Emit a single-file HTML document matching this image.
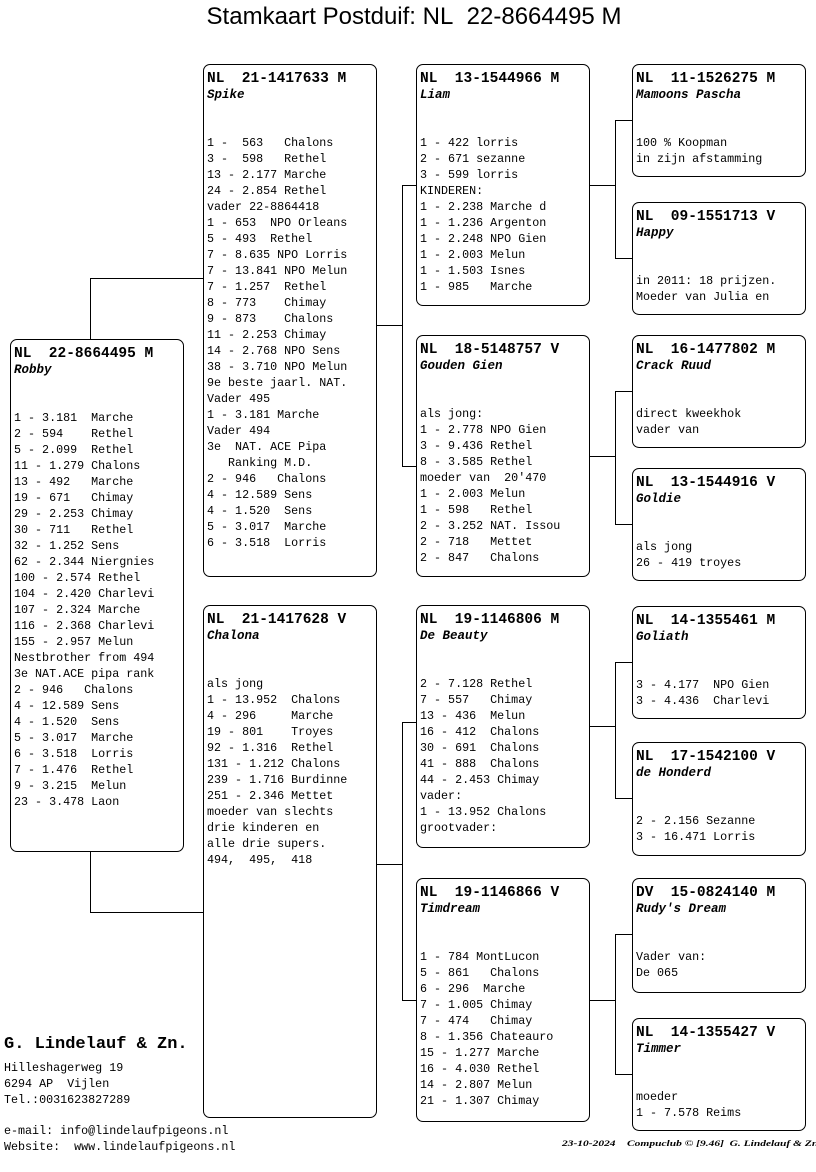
<!DOCTYPE html>
<html><head><meta charset="utf-8"><style>
body{margin:0;width:816px;height:1172px;background:#fff;position:relative;overflow:hidden;font-family:"Liberation Mono",monospace;color:#000}
.b{position:absolute;border:1.3px solid #000;border-radius:7px;box-sizing:border-box;padding:6px 0 0 3px}
.h{font-weight:bold;font-size:14.5px;line-height:16px;white-space:pre}
.n{font-weight:bold;font-style:italic;font-size:12.5px;line-height:16px;white-space:pre}
.t{font-size:11.7px;line-height:16px;white-space:pre;margin-top:32px}
.l{position:absolute;background:#000}
.title{position:absolute;top:3px;left:0;width:828px;text-align:center;font-family:"Liberation Sans",sans-serif;font-size:24px}
</style></head><body>
<div class="title">Stamkaart Postduif: NL&nbsp; 22-8664495 M</div>

<div class="l" style="left:90px;top:278px;width:1.3px;height:61px"></div>
<div class="l" style="left:90px;top:278px;width:113px;height:1.3px"></div>
<div class="l" style="left:90px;top:851px;width:1.3px;height:62px"></div>
<div class="l" style="left:90px;top:912px;width:113px;height:1.3px"></div>

<div class="l" style="left:376px;top:325px;width:26px;height:1.3px"></div>
<div class="l" style="left:402px;top:185px;width:1.3px;height:282px"></div>
<div class="l" style="left:402px;top:185px;width:14px;height:1.3px"></div>
<div class="l" style="left:402px;top:466px;width:14px;height:1.3px"></div>

<div class="l" style="left:376px;top:864px;width:26px;height:1.3px"></div>
<div class="l" style="left:402px;top:722px;width:1.3px;height:279px"></div>
<div class="l" style="left:402px;top:722px;width:14px;height:1.3px"></div>
<div class="l" style="left:402px;top:1000px;width:14px;height:1.3px"></div>

<div class="l" style="left:589px;top:185px;width:26px;height:1.3px"></div>
<div class="l" style="left:615px;top:120px;width:1.3px;height:138px"></div>
<div class="l" style="left:615px;top:120px;width:17px;height:1.3px"></div>
<div class="l" style="left:615px;top:258px;width:17px;height:1.3px"></div>

<div class="l" style="left:589px;top:456px;width:26px;height:1.3px"></div>
<div class="l" style="left:615px;top:391px;width:1.3px;height:134px"></div>
<div class="l" style="left:615px;top:391px;width:17px;height:1.3px"></div>
<div class="l" style="left:615px;top:524px;width:17px;height:1.3px"></div>

<div class="l" style="left:589px;top:726px;width:26px;height:1.3px"></div>
<div class="l" style="left:615px;top:662px;width:1.3px;height:137px"></div>
<div class="l" style="left:615px;top:662px;width:17px;height:1.3px"></div>
<div class="l" style="left:615px;top:798px;width:17px;height:1.3px"></div>

<div class="l" style="left:589px;top:1000px;width:26px;height:1.3px"></div>
<div class="l" style="left:615px;top:934px;width:1.3px;height:141px"></div>
<div class="l" style="left:615px;top:934px;width:17px;height:1.3px"></div>
<div class="l" style="left:615px;top:1074px;width:17px;height:1.3px"></div>

<div class="b" style="left:10px;top:339px;width:174px;height:513px"><div class="h">NL  22-8664495 M</div><div class="n">Robby</div><div class="t">1 - 3.181  Marche
2 - 594    Rethel
5 - 2.099  Rethel
11 - 1.279 Chalons
13 - 492   Marche
19 - 671   Chimay
29 - 2.253 Chimay
30 - 711   Rethel
32 - 1.252 Sens
62 - 2.344 Niergnies
100 - 2.574 Rethel
104 - 2.420 Charlevi
107 - 2.324 Marche
116 - 2.368 Charlevi
155 - 2.957 Melun
Nestbrother from 494
3e NAT.ACE pipa rank
2 - 946   Chalons
4 - 12.589 Sens
4 - 1.520  Sens
5 - 3.017  Marche
6 - 3.518  Lorris
7 - 1.476  Rethel
9 - 3.215  Melun
23 - 3.478 Laon</div></div>

<div class="b" style="left:203px;top:64px;width:174px;height:513px"><div class="h">NL  21-1417633 M</div><div class="n">Spike</div><div class="t">1 -  563   Chalons
3 -  598   Rethel
13 - 2.177 Marche
24 - 2.854 Rethel
vader 22-8864418
1 - 653  NPO Orleans
5 - 493  Rethel
7 - 8.635 NPO Lorris
7 - 13.841 NPO Melun
7 - 1.257  Rethel
8 - 773    Chimay
9 - 873    Chalons
11 - 2.253 Chimay
14 - 2.768 NPO Sens
38 - 3.710 NPO Melun
9e beste jaarl. NAT.
Vader 495
1 - 3.181 Marche
Vader 494
3e  NAT. ACE Pipa
   Ranking M.D.
2 - 946   Chalons
4 - 12.589 Sens
4 - 1.520  Sens
5 - 3.017  Marche
6 - 3.518  Lorris</div></div>

<div class="b" style="left:203px;top:605px;width:174px;height:513px"><div class="h">NL  21-1417628 V</div><div class="n">Chalona</div><div class="t">als jong
1 - 13.952  Chalons
4 - 296     Marche
19 - 801    Troyes
92 - 1.316  Rethel
131 - 1.212 Chalons
239 - 1.716 Burdinne
251 - 2.346 Mettet
moeder van slechts
drie kinderen en
alle drie supers.
494,  495,  418</div></div>

<div class="b" style="left:416px;top:64px;width:174px;height:242px"><div class="h">NL  13-1544966 M</div><div class="n">Liam</div><div class="t">1 - 422 lorris
2 - 671 sezanne
3 - 599 lorris
KINDEREN:
1 - 2.238 Marche d
1 - 1.236 Argenton
1 - 2.248 NPO Gien
1 - 2.003 Melun
1 - 1.503 Isnes
1 - 985   Marche</div></div>

<div class="b" style="left:416px;top:335px;width:174px;height:242px"><div class="h">NL  18-5148757 V</div><div class="n">Gouden Gien</div><div class="t">als jong:
1 - 2.778 NPO Gien
3 - 9.436 Rethel
8 - 3.585 Rethel
moeder van  20'470
1 - 2.003 Melun
1 - 598   Rethel
2 - 3.252 NAT. Issou
2 - 718   Mettet
2 - 847   Chalons</div></div>

<div class="b" style="left:416px;top:605px;width:174px;height:243px"><div class="h">NL  19-1146806 M</div><div class="n">De Beauty</div><div class="t">2 - 7.128 Rethel
7 - 557   Chimay
13 - 436  Melun
16 - 412  Chalons
30 - 691  Chalons
41 - 888  Chalons
44 - 2.453 Chimay
vader:
1 - 13.952 Chalons
grootvader:</div></div>

<div class="b" style="left:416px;top:878px;width:174px;height:244px"><div class="h">NL  19-1146866 V</div><div class="n">Timdream</div><div class="t">1 - 784 MontLucon
5 - 861   Chalons
6 - 296  Marche
7 - 1.005 Chimay
7 - 474   Chimay
8 - 1.356 Chateauro
15 - 1.277 Marche
16 - 4.030 Rethel
14 - 2.807 Melun
21 - 1.307 Chimay</div></div>

<div class="b" style="left:632px;top:64px;width:174px;height:113px"><div class="h">NL  11-1526275 M</div><div class="n">Mamoons Pascha</div><div class="t">100 % Koopman
in zijn afstamming</div></div>
<div class="b" style="left:632px;top:202px;width:174px;height:113px"><div class="h">NL  09-1551713 V</div><div class="n">Happy</div><div class="t">in 2011: 18 prijzen.
Moeder van Julia en</div></div>
<div class="b" style="left:632px;top:335px;width:174px;height:113px"><div class="h">NL  16-1477802 M</div><div class="n">Crack Ruud</div><div class="t">direct kweekhok
vader van</div></div>
<div class="b" style="left:632px;top:468px;width:174px;height:113px"><div class="h">NL  13-1544916 V</div><div class="n">Goldie</div><div class="t">als jong
26 - 419 troyes</div></div>
<div class="b" style="left:632px;top:606px;width:174px;height:113px"><div class="h">NL  14-1355461 M</div><div class="n">Goliath</div><div class="t">3 - 4.177  NPO Gien
3 - 4.436  Charlevi</div></div>
<div class="b" style="left:632px;top:742px;width:174px;height:114px"><div class="h">NL  17-1542100 V</div><div class="n">de Honderd</div><div class="t">2 - 2.156 Sezanne
3 - 16.471 Lorris</div></div>
<div class="b" style="left:632px;top:878px;width:174px;height:115px"><div class="h">DV  15-0824140 M</div><div class="n">Rudy's Dream</div><div class="t">Vader van:
De 065</div></div>
<div class="b" style="left:632px;top:1018px;width:174px;height:113px"><div class="h">NL  14-1355427 V</div><div class="n">Timmer</div><div class="t">moeder
1 - 7.578 Reims</div></div>

<div style="position:absolute;left:4px;top:1035px;font-weight:bold;font-size:17px;white-space:pre">G. Lindelauf &amp; Zn.</div>
<div style="position:absolute;left:4px;top:1060px;font-size:11.7px;line-height:16px;white-space:pre">Hilleshagerweg 19
6294 AP  Vijlen
Tel.:0031623827289</div>
<div style="position:absolute;left:4px;top:1123px;font-size:11.7px;line-height:16px;white-space:pre">e-mail: info@lindelaufpigeons.nl
Website:  www.lindelaufpigeons.nl</div>
<div style="position:absolute;left:562px;top:1138px;font-family:'Liberation Serif',serif;font-style:italic;font-weight:bold;font-size:8.5px;white-space:pre;transform:scaleX(1.35);transform-origin:0 0">23-10-2024    Compuclub © [9.46]  G. Lindelauf &amp; Zn.</div>
</body></html>
